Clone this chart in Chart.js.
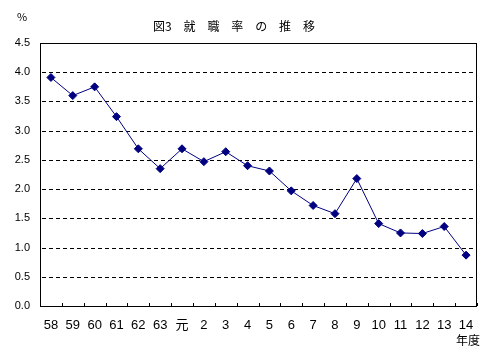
<!DOCTYPE html>
<html><head><meta charset="utf-8">
<script src="https://cdn.jsdelivr.net/npm/chart.js@4"></script>
<style>
html,body{margin:0;padding:0;background:#fff;}
#wrap{position:relative;width:487px;height:354px;}
canvas{position:absolute;left:0;top:0;}
.t{position:absolute;font-family:"Noto Sans CJK JP",sans-serif;color:#000;white-space:pre;line-height:1;}
</style></head>
<body><div id="wrap">
<canvas id="c" width="487" height="354"></canvas>
<div class="t" style="left:153px;top:20px;font-size:12px;letter-spacing:4.6px;"><span style="letter-spacing:0">図</span>3 就 職 率 の 推 移</div>
<div class="t" style="left:17px;top:11px;font-size:11px;">%</div>
<div class="t" style="left:456px;top:334px;font-size:12px;">年度</div>
</div>
<script>
const categories = ["58","59","60","61","62","63","元","2","3","4","5","6","7","8","9","10","11","12","13","14"];
const rates = [3.91,3.60,3.75,3.24,2.69,2.35,2.69,2.47,2.64,2.40,2.31,1.97,1.72,1.58,2.18,1.41,1.25,1.24,1.36,0.87];
const yMin = 0, yMax = 4.5, yStep = 0.5;

const frame = {
  id:'frame',
  beforeDatasetsDraw(chart){
    const ctx = chart.ctx, a = chart.chartArea, ys = chart.scales.y;
    ctx.save();
    ctx.strokeStyle = '#000'; ctx.lineWidth = 1; ctx.setLineDash([4,3]);
    ctx.beginPath();
    ys.ticks.forEach(t => {
      if (t.value === yMin || t.value === yMax) return;
      const y = Math.round(ys.getPixelForValue(t.value)) + 0.5;
      ctx.moveTo(a.left + 2, y); ctx.lineTo(a.right, y);
    });
    ctx.stroke();
    ctx.restore();
  },
  afterDraw(chart){
    const ctx = chart.ctx, a = chart.chartArea;
    ctx.save();
    ctx.strokeStyle = '#000'; ctx.lineWidth = 1; ctx.setLineDash([]);
    ctx.strokeRect(Math.round(a.left)+0.5, Math.round(a.top)+0.5, Math.round(a.right-a.left)-1, Math.round(a.bottom-a.top));
    ctx.beginPath();
    for (let i = 0; i <= categories.length; i++) {
      const x = Math.round(a.left + (a.right - a.left) * i / categories.length) + 0.5;
      ctx.moveTo(x, a.bottom); ctx.lineTo(x, a.bottom - 3);
    }
    ctx.stroke();
    ctx.restore();
  }
};

new Chart(document.getElementById('c'), {
  type: 'line',
  data: { labels: categories, datasets: [{
    data: rates, borderColor: '#000080', backgroundColor: '#000080',
    borderWidth: 1, pointStyle: 'rectRot', pointRadius: 4, pointHoverRadius: 4,
    tension: 0
  }]},
  options: {
    responsive: false, animation: false, devicePixelRatio: 1,
    layout: { padding: { top: 43, right: 10, left: 0, bottom: 0 } },
    plugins: { legend: { display: false }, tooltip: { enabled: false }, title: { display: false } },
    scales: {
      x: {
        offset: true,
        grid: { display: false, drawTicks: false },
        border: { display: false },
        ticks: { color: '#000', font: { family: '"Liberation Sans","Noto Sans CJK JP",sans-serif', size: 13 }, padding: 12, maxRotation: 0, autoSkip: false },
        afterFit(s){ s.height = 48; }
      },
      y: {
        min: yMin, max: yMax,
        ticks: { stepSize: yStep, color: '#000', font: { family: '"Liberation Sans",sans-serif', size: 11 }, padding: 10,
          callback: v => v.toFixed(1) },
        grid: { display: false, drawTicks: false },
        border: { display: false },
        afterFit(s){ s.width = 40; }
      }
    }
  },
  plugins: [frame]
});
</script>
</body></html>
